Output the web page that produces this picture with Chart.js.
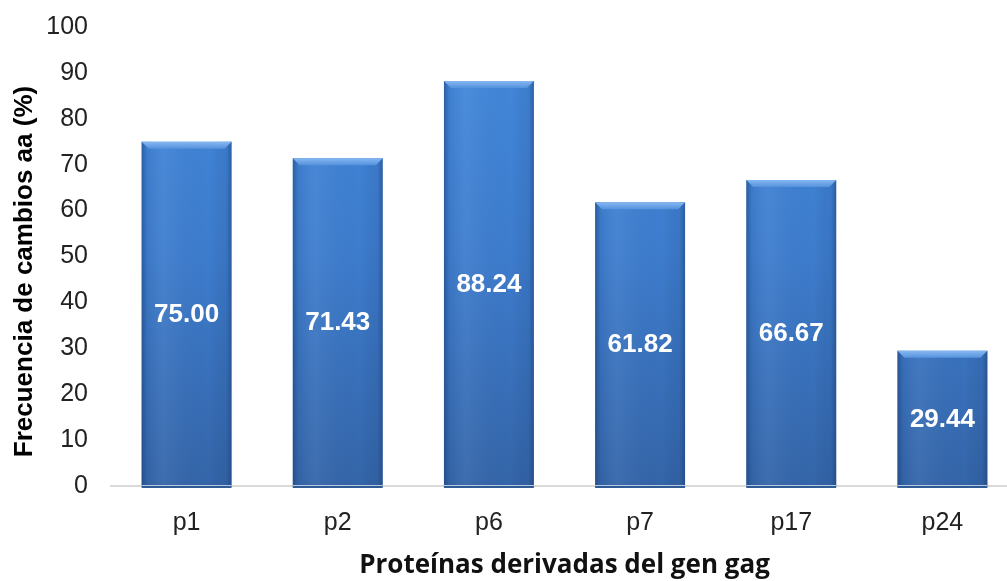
<!DOCTYPE html>
<html>
<head>
<meta charset="utf-8">
<script src="https://cdn.jsdelivr.net/npm/chart.js@4.4.1/dist/chart.umd.min.js"></script>
<style>
  html, body { margin: 0; padding: 0; background: #ffffff; overflow: hidden; width: 1007px; height: 581px; }
  #wrap { width: 1018px; height: 592px; margin-top: -11px; }
</style>
</head>
<body>
<div id="wrap"><canvas id="chart" width="1018" height="592"></canvas></div>
<script>
// Frecuencia de cambios de aminoácidos por proteína del gen gag
const proteinas = ['p1', 'p2', 'p6', 'p7', 'p17', 'p24'];
const frecuencias = [75.00, 71.43, 88.24, 61.82, 66.67, 29.44];
const yMin = 0;
const yMax = 100;
const yStep = 10;
const yTitle = 'Frecuencia de cambios aa (%)';
const xTitle = 'Proteínas derivadas del gen gag';

const ARIAL = '"Liberation Sans", Arial, sans-serif';
const HUMAN = '"Open Sans", "Noto Sans", sans-serif';

// vertical shading: brighter near the top of the plot, deeper at the base
function barFill(ctx) {
  const area = ctx.chart.chartArea;
  if (!area) return '#3b78c8';
  const g = ctx.chart.ctx.createLinearGradient(0, area.top, 0, area.bottom);
  g.addColorStop(0, '#4389dd');
  g.addColorStop(0.5, '#3d7ccd');
  g.addColorStop(1, '#3465a9');
  return g;
}

// bevelled top, darker side edges and value labels centred in each bar
const bevelAndLabels = {
  id: 'bevelAndLabels',
  afterDatasetsDraw(chart) {
    const c = chart.ctx;
    const meta = chart.getDatasetMeta(0);
    meta.data.forEach((bar, i) => {
      const l = bar.x - bar.width / 2, r = bar.x + bar.width / 2;
      const t = bar.y, b = bar.base;
      const w = r - l;
      c.save();
      // side shading
      const gs = c.createLinearGradient(l, 0, r, 0);
      gs.addColorStop(0, 'rgba(20,50,100,0.45)');
      gs.addColorStop(0.06, 'rgba(20,50,100,0.08)');
      gs.addColorStop(0.25, 'rgba(255,255,255,0.05)');
      gs.addColorStop(0.75, 'rgba(0,0,0,0)');
      gs.addColorStop(0.94, 'rgba(20,50,100,0.1)');
      gs.addColorStop(1, 'rgba(20,50,100,0.45)');
      c.fillStyle = gs;
      c.fillRect(l, t, w, b - t);
      // top bevel
      const bev = 7;
      const gt = c.createLinearGradient(0, t, 0, t + bev);
      gt.addColorStop(0, '#86b8f2');
      gt.addColorStop(1, '#5592dd');
      c.fillStyle = gt;
      c.beginPath();
      c.moveTo(l, t);
      c.lineTo(r, t);
      c.lineTo(r - bev, t + bev);
      c.lineTo(l + bev, t + bev);
      c.closePath();
      c.fill();
      // base edge
      c.fillStyle = '#b8c8de';
      c.fillRect(l, b - 1, w, 1);
      c.fillStyle = '#2e5a96';
      c.fillRect(l, b, w, 2);
      // value label
      c.fillStyle = '#ffffff';
      c.font = 'bold 26px ' + ARIAL;
      c.textAlign = 'center';
      c.textBaseline = 'middle';
      c.fillText(frecuencias[i].toFixed(2), bar.x, (t + b) / 2 + 1);
      c.restore();
    });
  },
  // vertical axis title, set a little below the middle of the plot
  afterDraw(chart) {
    const c = chart.ctx;
    const a = chart.chartArea;
    c.save();
    c.translate(25, (a.top + a.bottom) / 2 + 15);
    c.rotate(-Math.PI / 2);
    c.fillStyle = '#000000';
    c.font = 'bold 26px ' + ARIAL;
    c.textAlign = 'center';
    c.textBaseline = 'middle';
    c.fillText(yTitle, 0, 0);
    c.restore();
  }
};

new Chart(document.getElementById('chart'), {
  type: 'bar',
  data: {
    labels: proteinas,
    datasets: [{
      data: frecuencias,
      backgroundColor: barFill,
      borderWidth: 0,
      categoryPercentage: 1.0,
      barPercentage: 0.595
    }]
  },
  options: {
    responsive: false,
    animation: false,
    devicePixelRatio: 1,
    layout: { padding: { left: 0, right: 0, top: 2, bottom: 0 } },
    plugins: {
      legend: { display: false },
      tooltip: { enabled: false }
    },
    scales: {
      x: {
        afterFit(scale) { scale.height = 95; },
        grid: { display: false, drawTicks: false },
        border: { display: true, color: '#d9d9d9', width: 2 },
        ticks: { color: '#222222', font: { family: ARIAL, size: 25 }, padding: 22 },
        title: {
          display: true,
          text: xTitle,
          color: '#111111',
          font: { family: HUMAN, size: 26, weight: 'bold' },
          padding: { top: 0, bottom: 0 }
        }
      },
      y: {
        min: yMin,
        max: yMax,
        afterFit(scale) { scale.width = 111; },
        grid: { display: false, drawTicks: false },
        border: { display: false },
        ticks: { stepSize: yStep, color: '#222222', font: { family: ARIAL, size: 25 }, padding: 23 }
      }
    }
  },
  plugins: [bevelAndLabels]
});
</script>
</body>
</html>
